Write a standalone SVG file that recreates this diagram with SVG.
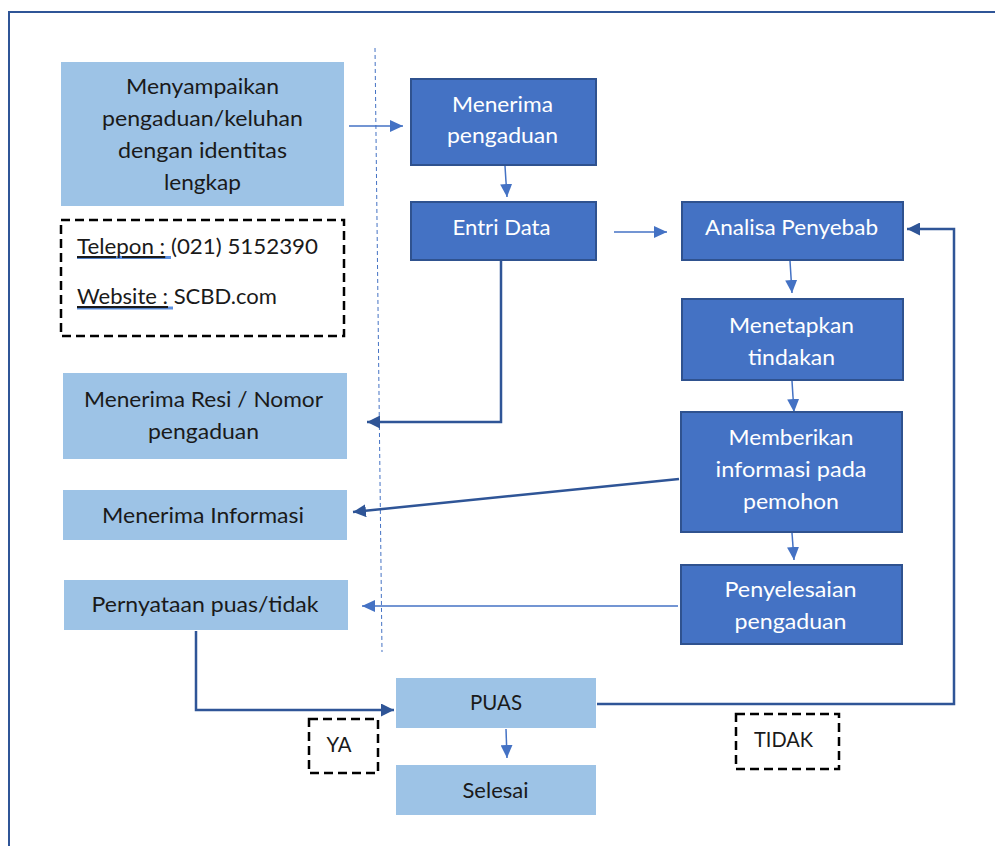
<svg xmlns="http://www.w3.org/2000/svg" width="995" height="846" viewBox="0 0 995 846">
  <style>
    .light { fill: #9DC3E6; }
    .dark { fill: #4472C4; stroke: #2F528F; stroke-width: 2; }
    .tag { fill: none; stroke: #000; stroke-width: 2.5; stroke-dasharray: 9 5; }
    .t { font-family: Lato, "Open Sans", sans-serif; font-size: 21px; text-anchor: middle; }
    .tb { fill: #1a1a1a; }
    .tw { fill: #ffffff; }
    .tl { font-family: Lato, "Open Sans", sans-serif; font-size: 21px; fill: #1a1a1a; }
    .thin { fill: none; stroke: #4472C4; stroke-width: 1.5; marker-end: url(#aLight); }
    .thick { fill: none; stroke: #2F5597; stroke-width: 2.5; marker-end: url(#aDark); }
    .lane { fill: none; stroke: #4472C4; stroke-width: 1; stroke-dasharray: 4 3; }
    .squiggle { stroke: #5B8FE0; stroke-width: 3; }
  </style>
  <defs>
    <marker id="aLight" markerUnits="userSpaceOnUse" markerWidth="14" markerHeight="12" refX="13" refY="6" orient="auto">
      <path d="M0,0 L13,6 L0,12 z" fill="#4472C4"/>
    </marker>
    <marker id="aDark" markerUnits="userSpaceOnUse" markerWidth="14" markerHeight="13" refX="13" refY="6.5" orient="auto">
      <path d="M0,0 L13,6.5 L0,13 z" fill="#2F5597"/>
    </marker>
  </defs>

  <rect width="995" height="846" fill="#ffffff"/>
  <!-- outer frame, running off the right and bottom edges -->
  <rect x="9" y="12" width="1000" height="900" fill="none" stroke="#2F5597" stroke-width="2"/>

  <!-- lane divider -->
  <line class="lane" x1="375" y1="48" x2="382" y2="652"/>

  <!-- connectors -->
  <g id="connectors">
    <line class="thin" x1="349" y1="126" x2="403" y2="126"/>
    <line class="thin" x1="505" y1="166" x2="507" y2="197"/>
    <line class="thin" x1="614" y1="232" x2="667" y2="232"/>
    <polyline class="thick" points="501,261 501,422 367,422"/>
    <line class="thin" x1="790" y1="261" x2="792" y2="293"/>
    <line class="thin" x1="792" y1="381" x2="794" y2="412"/>
    <line class="thick" x1="679" y1="479" x2="353" y2="512"/>
    <line class="thin" x1="792" y1="533" x2="794" y2="560"/>
    <line class="thin" x1="678" y1="606" x2="362" y2="606"/>
    <polyline class="thick" points="196,631 196,710 394,710"/>
    <line class="thin" x1="506" y1="729" x2="507" y2="758"/>
    <polyline class="thick" points="597,704 954,704 954,229 907,229"/>
  </g>

  <g id="menyampaikan">
    <rect class="light" x="61" y="62" width="283" height="144"/>
    <text class="t tb" x="202.5" y="94" textLength="153" lengthAdjust="spacingAndGlyphs">Menyampaikan</text>
    <text class="t tb" x="202.5" y="126" textLength="201" lengthAdjust="spacingAndGlyphs">pengaduan/keluhan</text>
    <text class="t tb" x="202.5" y="158" textLength="169" lengthAdjust="spacingAndGlyphs">dengan identitas</text>
    <text class="t tb" x="202.5" y="190" textLength="77" lengthAdjust="spacingAndGlyphs">lengkap</text>
  </g>

  <g id="kontak">
    <rect class="tag" x="61" y="220" width="283" height="116"/>
    <line class="squiggle" x1="77" y1="257.5" x2="171" y2="257.5"/>
    <line class="squiggle" x1="77" y1="308" x2="173" y2="308"/>
    <text class="tl" x="77" y="254" textLength="241" lengthAdjust="spacingAndGlyphs"><tspan text-decoration="underline">Telepon :</tspan> (021) 5152390</text>
    <text class="tl" x="77" y="304" textLength="200" lengthAdjust="spacingAndGlyphs"><tspan text-decoration="underline">Website :</tspan> SCBD.com</text>
  </g>

  <g id="terima-resi">
    <rect class="light" x="63" y="373" width="284" height="86"/>
    <text class="t tb" x="203.5" y="407" textLength="239" lengthAdjust="spacingAndGlyphs">Menerima Resi / Nomor</text>
    <text class="t tb" x="203.5" y="439" textLength="111" lengthAdjust="spacingAndGlyphs">pengaduan</text>
  </g>

  <g id="terima-informasi">
    <rect class="light" x="63" y="490" width="284" height="50"/>
    <text class="t tb" x="203" y="523" textLength="202" lengthAdjust="spacingAndGlyphs">Menerima Informasi</text>
  </g>

  <g id="pernyataan">
    <rect class="light" x="64" y="580" width="284" height="50"/>
    <text class="t tb" x="205" y="612" textLength="227" lengthAdjust="spacingAndGlyphs">Pernyataan puas/tidak</text>
  </g>

  <g id="menerima-pengaduan">
    <rect class="dark" x="411" y="79" width="185" height="86"/>
    <text class="t tw" x="502.5" y="112" textLength="101" lengthAdjust="spacingAndGlyphs">Menerima</text>
    <text class="t tw" x="502.5" y="143" textLength="111" lengthAdjust="spacingAndGlyphs">pengaduan</text>
  </g>

  <g id="entri-data">
    <rect class="dark" x="411" y="202" width="185" height="58"/>
    <text class="t tw" x="501.5" y="235" textLength="98" lengthAdjust="spacingAndGlyphs">Entri Data</text>
  </g>

  <g id="analisa">
    <rect class="dark" x="682" y="202" width="221" height="58"/>
    <text class="t tw" x="791.5" y="235" textLength="173" lengthAdjust="spacingAndGlyphs">Analisa Penyebab</text>
  </g>

  <g id="menetapkan">
    <rect class="dark" x="682" y="299" width="221" height="81"/>
    <text class="t tw" x="791.5" y="333" textLength="125" lengthAdjust="spacingAndGlyphs">Menetapkan</text>
    <text class="t tw" x="791.5" y="365" textLength="87" lengthAdjust="spacingAndGlyphs">tindakan</text>
  </g>

  <g id="memberikan">
    <rect class="dark" x="681" y="412" width="221" height="120"/>
    <text class="t tw" x="791" y="445" textLength="125" lengthAdjust="spacingAndGlyphs">Memberikan</text>
    <text class="t tw" x="791" y="477" textLength="151" lengthAdjust="spacingAndGlyphs">informasi pada</text>
    <text class="t tw" x="791" y="509" textLength="96" lengthAdjust="spacingAndGlyphs">pemohon</text>
  </g>

  <g id="penyelesaian">
    <rect class="dark" x="681" y="565" width="221" height="79"/>
    <text class="t tw" x="790.5" y="597" textLength="132" lengthAdjust="spacingAndGlyphs">Penyelesaian</text>
    <text class="t tw" x="790.5" y="629" textLength="112" lengthAdjust="spacingAndGlyphs">pengaduan</text>
  </g>

  <g id="puas">
    <rect class="light" x="396" y="678" width="200" height="50"/>
    <text class="t tb" x="496" y="710" textLength="52" lengthAdjust="spacingAndGlyphs">PUAS</text>
  </g>

  <g id="selesai">
    <rect class="light" x="396" y="765" width="200" height="50"/>
    <text class="t tb" x="495.5" y="798" textLength="66" lengthAdjust="spacingAndGlyphs">Selesai</text>
  </g>

  <g id="label-ya">
    <rect class="tag" x="309" y="719" width="69" height="54"/>
    <text class="t tb" x="339" y="752" textLength="25" lengthAdjust="spacingAndGlyphs">YA</text>
  </g>

  <g id="label-tidak">
    <rect class="tag" x="736" y="714" width="103" height="55"/>
    <text class="t tb" x="783.5" y="747" textLength="59" lengthAdjust="spacingAndGlyphs">TIDAK</text>
  </g>
</svg>
